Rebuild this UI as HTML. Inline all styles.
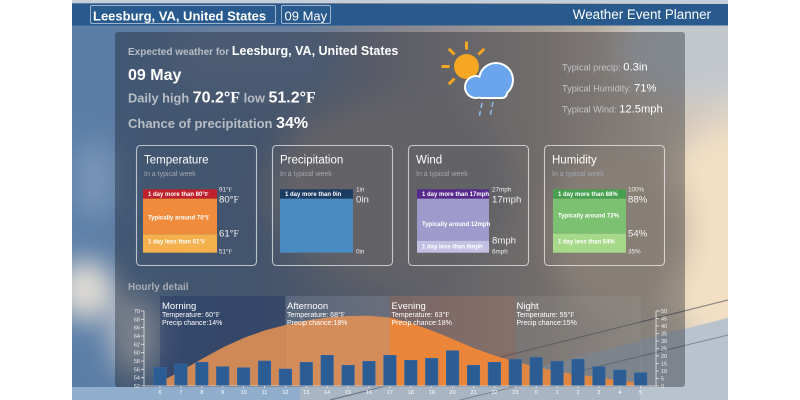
<!DOCTYPE html>
<html><head><meta charset="utf-8">
<style>
html,body{margin:0;padding:0;background:#fff;}
svg{display:block;}
text{font-family:"Liberation Sans",Arial,sans-serif;}
.sf{font-family:"Liberation Serif","DejaVu Serif",serif;}
</style></head><body>
<svg width="800" height="400" viewBox="0 0 800 400" xmlns="http://www.w3.org/2000/svg">
<defs>
<linearGradient id="bg" x1="72" x2="728" y1="0" y2="0" gradientUnits="userSpaceOnUse">
<stop offset="0" stop-color="#5b7ea8"/>
<stop offset="0.28" stop-color="#5f7899"/>
<stop offset="0.5" stop-color="#878790"/>
<stop offset="0.72" stop-color="#a89f97"/>
<stop offset="0.9" stop-color="#cdc2b4"/>
<stop offset="1" stop-color="#ddd3c6"/>
</linearGradient>
<filter id="b1" x="-50%" y="-50%" width="200%" height="200%"><feGaussianBlur stdDeviation="14"/></filter>
<filter id="b2" x="-50%" y="-50%" width="200%" height="200%"><feGaussianBlur stdDeviation="4"/></filter>
<clipPath id="ph"><rect x="72" y="0" width="656" height="400"/></clipPath>
<clipPath id="cM"><rect x="160" y="296" width="125.4" height="90"/></clipPath>
<clipPath id="cA"><rect x="285.4" y="296" width="104.5" height="90"/></clipPath>
<clipPath id="cE"><rect x="389.9" y="296" width="125.4" height="90"/></clipPath>
<clipPath id="cN"><rect x="515.3" y="296" width="125.4" height="90"/></clipPath>
<path id="area" d="M160,386 L160,382 L180.9,371 L201.8,359 L222.7,347.5 L243.6,338 L264.5,330.5 L285.4,325 L306.3,320.5 L327.2,317.5 L348.1,316 L369,315.8 L389.9,317.5 L410.8,323 L431.7,330.5 L452.6,339 L473.5,348 L494.4,355.5 L515.3,361.5 L536.2,367 L557.1,371.5 L578,374.5 L598.9,377.5 L619.8,380.5 L640.7,383 L640.7,386 Z"/>
</defs>
<rect width="800" height="400" fill="#fff"/>
<g clip-path="url(#ph)">
<rect x="72" y="0" width="656" height="400" fill="url(#bg)"/>
<g filter="url(#b1)">
<ellipse cx="725" cy="235" rx="70" ry="105" fill="#f3e0c4"/>
<ellipse cx="700" cy="50" rx="80" ry="50" fill="#c2c7cd"/>
<ellipse cx="620" cy="230" rx="70" ry="80" fill="#c9b9a8"/>
<ellipse cx="85" cy="290" rx="30" ry="30" fill="#e2ddd5"/>
<ellipse cx="135" cy="335" rx="25" ry="40" fill="#b9c0ca"/>
<ellipse cx="95" cy="180" rx="22" ry="40" fill="#7a96b8"/>
<ellipse cx="390" cy="190" rx="120" ry="90" fill="#908d90"/>
<ellipse cx="250" cy="60" rx="90" ry="40" fill="#6a82a2"/>
</g>
<polygon points="72,387 300,387 300,400 72,400" fill="#90adcc"/>
<polygon points="300,387 520,372 728,318 728,400 300,400" fill="#a9b5c3"/>
<polygon points="640,340 728,318 728,400 640,400" fill="#b9c3ce"/>
<line x1="330" y1="400" x2="728" y2="300" stroke="#3d4552" stroke-width="1.2" opacity="0.55"/>
<line x1="460" y1="400" x2="728" y2="335" stroke="#3d4552" stroke-width="1" opacity="0.45"/>
<line x1="72" y1="1" x2="728" y2="1" stroke="#c4cfdb" stroke-width="4"/>
</g>
<!-- header -->
<rect x="72" y="4" width="656" height="21.5" fill="#285a8e"/>
<rect x="90.5" y="5.5" width="185" height="18" rx="1.5" fill="none" stroke="rgba(255,255,255,0.55)"/>
<rect x="281.5" y="5.5" width="49" height="18" rx="1.5" fill="none" stroke="rgba(255,255,255,0.55)"/>
<text x="93" y="20.5" font-size="13" font-weight="bold" fill="#fff">Leesburg, VA, United States</text>
<text x="284.5" y="20.5" font-size="13" fill="#fff">09 May</text>
<text x="711" y="19" font-size="13.4" fill="#fff" text-anchor="end">Weather Event Planner</text>
<!-- panel -->
<rect x="115" y="32" width="570" height="355" rx="3" fill="rgba(20,22,30,0.36)"/>
<text x="128" y="55" font-size="10" font-weight="bold" fill="#b9bdc5">Expected weather for <tspan font-size="12.5" fill="#fff">Leesburg, VA, United States</tspan></text>
<text x="128" y="80" font-size="16" font-weight="bold" fill="#fff">09 May</text>
<text x="128" y="102.7" font-size="12.8" font-weight="bold" fill="#b9bdc5">Daily high <tspan font-size="16" fill="#fff">70.2°<tspan class="sf">F</tspan></tspan>  low <tspan font-size="16" fill="#fff">51.2°<tspan class="sf">F</tspan></tspan></text>
<text x="128" y="128" font-size="13" font-weight="bold" fill="#b9bdc5">Chance of precipitation <tspan font-size="16" fill="#fff">34%</tspan></text>
<!-- icon -->
<g stroke="#f5a623" stroke-width="3">
<line x1="466.5" y1="49.5" x2="466.5" y2="41.5"/>
<line x1="478.5" y1="54.5" x2="484.2" y2="48.8"/>
<line x1="454.5" y1="54.5" x2="448.8" y2="48.8"/>
<line x1="449.5" y1="66.5" x2="441.5" y2="66.5"/>
<line x1="454.5" y1="78.5" x2="448.8" y2="84.2"/>
</g>
<circle cx="466.5" cy="66.5" r="12.5" fill="#f5a623"/>
<g fill="#fff">
<circle cx="476" cy="87" r="12"/>
<circle cx="496" cy="80" r="18"/>
<rect x="476" y="84" width="32" height="15" rx="6"/>
</g>
<g fill="#6aa4ec">
<circle cx="476" cy="87" r="10"/>
<circle cx="496" cy="80" r="16"/>
<rect x="476" y="86" width="30" height="11" rx="4"/>
</g>
<g stroke="#8ab6ea" stroke-width="1.6" stroke-dasharray="5,3">
<line x1="482" y1="103" x2="479" y2="118"/>
<line x1="493" y1="102" x2="490" y2="117"/>
</g>
<text x="562" y="70.5" font-size="9.2" fill="#c2c4c8">Typical precip: <tspan font-size="11.2" fill="#fff">0.3in</tspan></text>
<text x="562" y="91.7" font-size="9.2" fill="#c2c4c8">Typical Humidity: <tspan font-size="11.2" fill="#fff">71%</tspan></text>
<text x="562" y="112.7" font-size="9.2" fill="#c2c4c8">Typical Wind: <tspan font-size="11.2" fill="#fff">12.5mph</tspan></text>
<!-- cards -->
<g fill="none" stroke="rgba(255,255,255,0.65)" stroke-width="1.1">
<rect x="136.5" y="145.5" width="120" height="120" rx="4"/>
<rect x="272.5" y="145.5" width="120" height="120" rx="4"/>
<rect x="408.5" y="145.5" width="120" height="120" rx="4"/>
<rect x="544.5" y="145.5" width="120" height="120" rx="4"/>
</g>
<g font-size="11.5" fill="#fff">
<text x="144" y="163.3">Temperature</text>
<text x="280" y="163.3">Precipitation</text>
<text x="416" y="163.3">Wind</text>
<text x="552" y="163.3">Humidity</text>
</g>
<g font-size="7" fill="#a4a8b0">
<text x="144" y="176">In a typical week</text>
<text x="280" y="176">In a typical week</text>
<text x="416" y="176">In a typical week</text>
<text x="552" y="176">In a typical week</text>
</g>
<!-- temp bar -->
<rect x="143" y="189.3" width="74" height="9.4" fill="#c01f2c"/>
<rect x="143" y="198.7" width="74" height="35.6" fill="#f08b3c"/>
<rect x="143" y="234.3" width="74" height="18.4" fill="#f4b04c"/>
<!-- precip bar -->
<rect x="280" y="189.3" width="73" height="9.4" fill="#1c3b62"/>
<rect x="280" y="198.7" width="73" height="54" fill="#4a8bc1"/>
<!-- wind bar -->
<rect x="417" y="189.3" width="72" height="9.4" fill="#55288b"/>
<rect x="417" y="198.7" width="72" height="42" fill="#9e9bcc"/>
<rect x="417" y="240.7" width="72" height="12" fill="#c3c0e3"/>
<!-- humidity bar -->
<rect x="553" y="189.3" width="73" height="9.4" fill="#46a04f"/>
<rect x="553" y="198.7" width="73" height="35" fill="#7cc071"/>
<rect x="553" y="233.7" width="73" height="19" fill="#a7d98b"/>
<g font-size="6" font-weight="bold" fill="#fff">
<text x="148" y="196">1 day more than 80°<tspan class="sf">F</tspan></text>
<text x="148" y="219.3">Typically around 70°<tspan class="sf">F</tspan></text>
<text x="148" y="243.3">1 day less than 61°<tspan class="sf">F</tspan></text>
<text x="285" y="196">1 day more than 0in</text>
<text x="422" y="196">1 day more than 17mph</text>
<text x="422" y="226">Typically around 12mph</text>
<text x="422" y="248.3">1 day less than 8mph</text>
<text x="558" y="196">1 day more than 88%</text>
<text x="558" y="217.3">Typically around 72%</text>
<text x="558" y="243.3">1 day less than 54%</text>
</g>
<g font-size="6.3" fill="#eee">
<text x="219" y="191.7">91°<tspan class="sf">F</tspan></text>
<text x="219" y="253.3">51°<tspan class="sf">F</tspan></text>
<text x="356" y="191.7">1in</text>
<text x="356" y="253.3">0in</text>
<text x="492" y="191.7">27mph</text>
<text x="492" y="253.3">6mph</text>
<text x="628" y="191.7">100%</text>
<text x="628" y="253.3">35%</text>
</g>
<g font-size="9.6" fill="#f2f2f2">
<text x="219" y="202.7">80°<tspan class="sf">F</tspan></text>
<text x="219" y="236.7">61°<tspan class="sf">F</tspan></text>
<text x="356" y="202.7">0in</text>
<text x="492" y="202.7">17mph</text>
<text x="492" y="243.3">8mph</text>
<text x="628" y="202.7">88%</text>
<text x="628" y="236.7">54%</text>
</g>
<!-- hourly -->
<text x="128" y="290" font-size="10" font-weight="bold" fill="#a9adb5">Hourly detail</text>
<rect x="160" y="296" width="125.4" height="90" fill="rgba(20,40,95,0.3)"/>
<rect x="285.4" y="296" width="104.5" height="90" fill="rgba(170,190,215,0.18)"/>
<rect x="389.9" y="296" width="125.4" height="90" fill="rgba(215,130,100,0.24)"/>
<rect x="515.3" y="296" width="125.4" height="90" fill="rgba(165,160,155,0.22)"/>
<use href="#area" clip-path="url(#cM)" fill="#cf8957"/>
<use href="#area" clip-path="url(#cA)" fill="#d48c5a"/>
<use href="#area" clip-path="url(#cE)" fill="#ea853a"/>
<use href="#area" clip-path="url(#cN)" fill="#de8642"/>
<g fill="#2b5c94" stroke="#3a6aa2" stroke-width="0.6">
<rect x="153.75" y="367.3" width="12.5" height="18.7"/>
<rect x="174.65" y="364" width="12.5" height="22"/>
<rect x="195.55" y="362.3" width="12.5" height="23.7"/>
<rect x="216.45" y="366.7" width="12.5" height="19.3"/>
<rect x="237.35" y="367.7" width="12.5" height="18.3"/>
<rect x="258.25" y="361" width="12.5" height="25"/>
<rect x="279.15" y="369" width="12.5" height="17"/>
<rect x="300.05" y="362.3" width="12.5" height="23.7"/>
<rect x="320.95" y="355.3" width="12.5" height="30.7"/>
<rect x="341.85" y="365.3" width="12.5" height="20.7"/>
<rect x="362.75" y="361.3" width="12.5" height="24.7"/>
<rect x="383.65" y="355.3" width="12.5" height="30.7"/>
<rect x="404.55" y="360.3" width="12.5" height="25.7"/>
<rect x="425.45" y="358.3" width="12.5" height="27.7"/>
<rect x="446.35" y="350.7" width="12.5" height="35.3"/>
<rect x="467.25" y="365.3" width="12.5" height="20.7"/>
<rect x="488.15" y="362.3" width="12.5" height="23.7"/>
<rect x="509.05" y="359.3" width="12.5" height="26.7"/>
<rect x="529.95" y="357.3" width="12.5" height="28.7"/>
<rect x="550.85" y="361.3" width="12.5" height="24.7"/>
<rect x="571.75" y="359.3" width="12.5" height="26.7"/>
<rect x="592.65" y="366.7" width="12.5" height="19.3"/>
<rect x="613.55" y="370" width="12.5" height="16"/>
<rect x="634.45" y="372.7" width="12.5" height="13.3"/>
</g>
<g fill="#fff">
<text x="162" y="309" font-size="9.5">Morning</text>
<text x="162" y="317" font-size="7">Temperature: 60°<tspan class="sf">F</tspan></text>
<text x="162" y="325" font-size="7">Precip chance:14%</text>
<text x="287" y="309" font-size="9.5">Afternoon</text>
<text x="287" y="317" font-size="7">Temperature: 68°<tspan class="sf">F</tspan></text>
<text x="287" y="325" font-size="7">Precip chance:18%</text>
<text x="391.5" y="309" font-size="9.5">Evening</text>
<text x="391.5" y="317" font-size="7">Temperature: 63°<tspan class="sf">F</tspan></text>
<text x="391.5" y="325" font-size="7">Precip chance:18%</text>
<text x="516.5" y="309" font-size="9.5">Night</text>
<text x="516.5" y="317" font-size="7">Temperature: 55°<tspan class="sf">F</tspan></text>
<text x="516.5" y="325" font-size="7">Precip chance:15%</text>
</g>
<!-- axes -->
<g stroke="#e6e6e6" stroke-width="0.8" fill="none">
<line x1="144" y1="311" x2="144" y2="386"/>
<line x1="656" y1="311" x2="656" y2="386"/>
<line x1="144" y1="386" x2="656" y2="386"/>
<path d="M141,311H144M141,319.3H144M141,327.7H144M141,336H144M141,344.3H144M141,352.7H144M141,361H144M141,369.3H144M141,377.7H144M141,386H144"/>
<path d="M656,311H660M656,318.5H659M656,326H659M656,333.5H659M656,341H659M656,348.5H659M656,356H659M656,363.5H659M656,371H659M656,378.5H659M656,386H659"/>
<path d="M160,386v2M180.9,386v2M201.8,386v2M222.7,386v2M243.6,386v2M264.5,386v2M285.4,386v2M306.3,386v2M327.2,386v2M348.1,386v2M369,386v2M389.9,386v2M410.8,386v2M431.7,386v2M452.6,386v2M473.5,386v2M494.4,386v2M515.3,386v2M536.2,386v2M557.1,386v2M578,386v2M598.9,386v2M619.8,386v2M640.7,386v2"/>
</g>
<g font-size="5.5" fill="#eee" text-anchor="end">
<text x="140" y="313">70</text><text x="140" y="321.3">68</text><text x="140" y="329.7">66</text><text x="140" y="338">64</text><text x="140" y="346.3">62</text><text x="140" y="354.7">60</text><text x="140" y="363">58</text><text x="140" y="371.3">56</text><text x="140" y="379.7">54</text><text x="140" y="388">52</text>
</g>
<g font-size="5.5" fill="#eee">
<text x="661" y="313">50</text><text x="661" y="320.5">45</text><text x="661" y="328">40</text><text x="661" y="335.5">35</text><text x="661" y="343">30</text><text x="661" y="350.5">25</text><text x="661" y="358">20</text><text x="661" y="365.5">15</text><text x="661" y="373">10</text><text x="661" y="380.5">5</text><text x="661" y="388">0</text>
</g>
<g font-size="5.5" fill="#fff" text-anchor="middle">
<text x="160" y="394">6</text><text x="180.9" y="394">7</text><text x="201.8" y="394">8</text><text x="222.7" y="394">9</text><text x="243.6" y="394">10</text><text x="264.5" y="394">11</text><text x="285.4" y="394">12</text><text x="306.3" y="394">13</text><text x="327.2" y="394">14</text><text x="348.1" y="394">15</text><text x="369" y="394">16</text><text x="389.9" y="394">17</text><text x="410.8" y="394">18</text><text x="431.7" y="394">19</text><text x="452.6" y="394">20</text><text x="473.5" y="394">21</text><text x="494.4" y="394">22</text><text x="515.3" y="394">23</text><text x="536.2" y="394">0</text><text x="557.1" y="394">1</text><text x="578" y="394">2</text><text x="598.9" y="394">3</text><text x="619.8" y="394">4</text><text x="640.7" y="394">5</text>
</g>
</svg>
</body></html>
